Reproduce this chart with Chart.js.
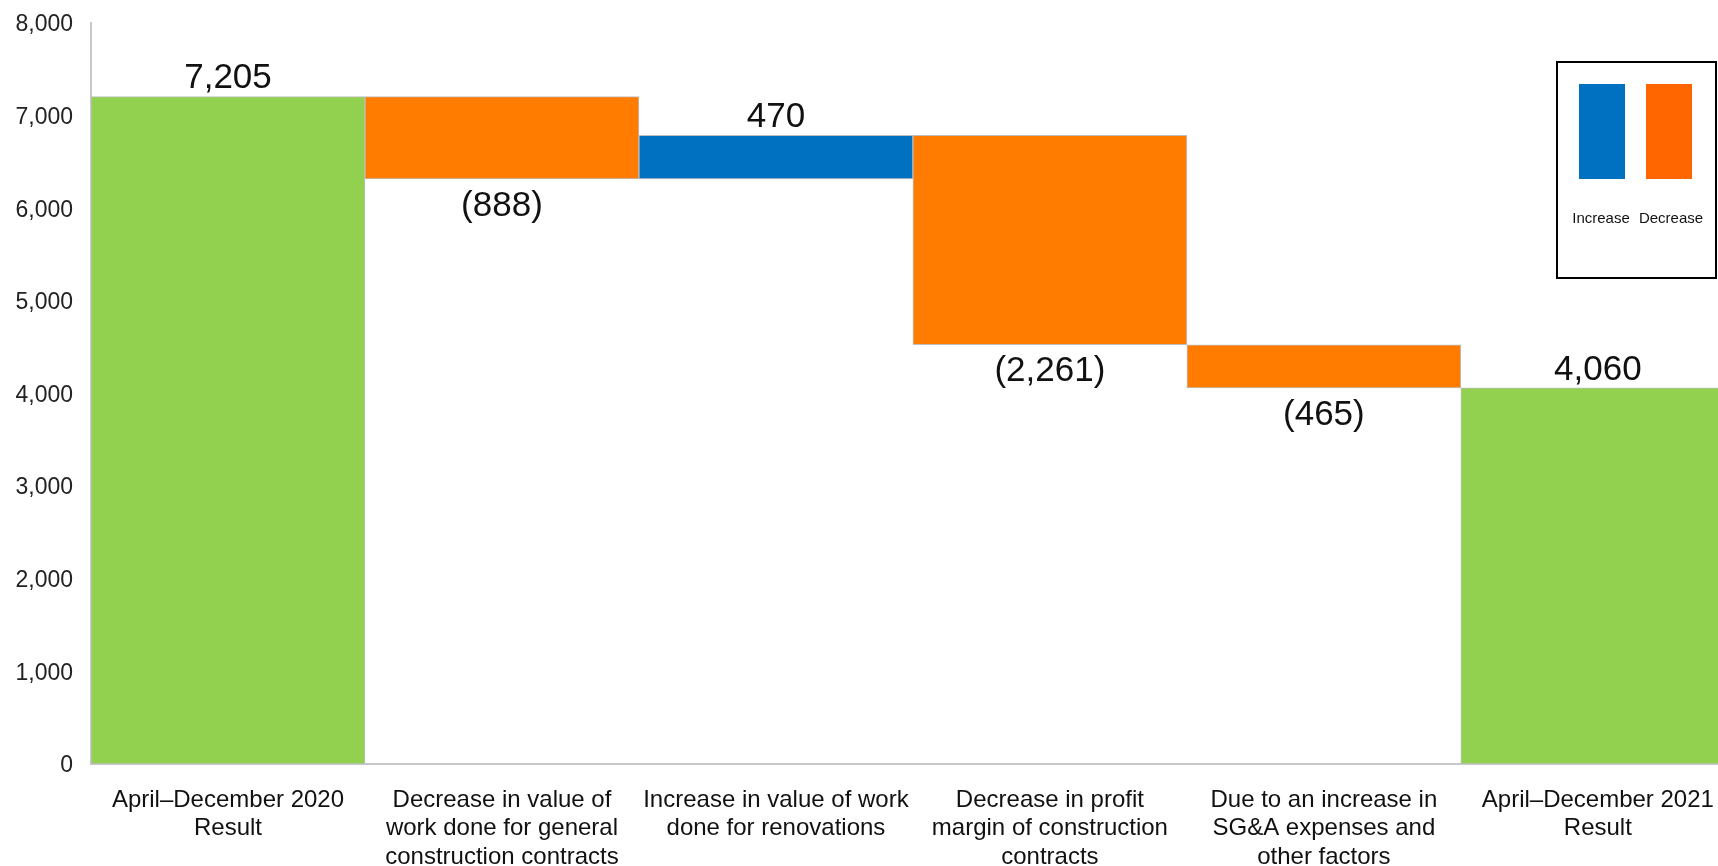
<!DOCTYPE html>
<html>
<head>
<meta charset="utf-8">
<script src="https://cdn.jsdelivr.net/npm/chart.js@4.4.1/dist/chart.umd.min.js"></script>
<style>
  html, body { margin: 0; padding: 0; background: #fff; overflow: hidden; }
  #wrap { width: 1736px; height: 866px; position: relative; }
</style>
</head>
<body>
<div id="wrap"><canvas id="chart"></canvas></div>
<script>
// categories (x axis labels, multi-line)
const categories = [
  ['April\u2013December 2020', 'Result'],
  ['Decrease in value of', 'work done for general', 'construction contracts'],
  ['Increase in value of work', 'done for renovations'],
  ['Decrease in profit', 'margin of construction', 'contracts'],
  ['Due to an increase in', 'SG&A expenses and', 'other factors'],
  ['April\u2013December 2021', 'Result']
];
// change per step; totals are the first and last bars
const changes = [7205, -888, 470, -2261, -465, 4060];
const kinds = ['total', 'delta', 'delta', 'delta', 'delta', 'total'];
const valueLabels = ['7,205', '(888)', '470', '(2,261)', '(465)', '4,060'];
const yTicks = [0, 1000, 2000, 3000, 4000, 5000, 6000, 7000, 8000];

const GREEN = '#92D050', ORANGE = '#FF7C00', BLUE = '#0070C0';

// floating bar ranges from running total
let running = 0;
const ranges = changes.map((v, i) => {
  if (kinds[i] === 'total') { running = v; return [0, v]; }
  const start = running;
  running += v;
  return [start, running];
});
const colors = changes.map((v, i) => kinds[i] === 'total' ? GREEN : (v < 0 ? ORANGE : BLUE));

const valueLabelPlugin = {
  id: 'valueLabels',
  afterDatasetsDraw(chart) {
    const ctx = chart.ctx;
    const meta = chart.getDatasetMeta(0);
    ctx.save();
    ctx.font = '35px "Liberation Sans", Arial, sans-serif';
    ctx.fillStyle = '#111';
    ctx.textAlign = 'center';
    ctx.textBaseline = 'middle';
    meta.data.forEach((bar, i) => {
      const top = Math.min(bar.y, bar.base);
      const bottom = Math.max(bar.y, bar.base);
      if (kinds[i] === 'delta' && changes[i] < 0) {
        ctx.fillText(valueLabels[i], bar.x, bottom + 27);
      } else {
        ctx.fillText(valueLabels[i], bar.x, top - 18);
      }
    });
    ctx.restore();
  }
};

// boxed legend in the top right corner
const boxLegendPlugin = {
  id: 'boxLegend',
  afterDraw(chart) {
    const ctx = chart.ctx;
    ctx.save();
    ctx.fillStyle = '#fff';
    ctx.fillRect(1557, 62, 159, 216);
    ctx.strokeStyle = '#000';
    ctx.lineWidth = 2;
    ctx.strokeRect(1557, 62, 159, 216);
    ctx.fillStyle = BLUE;
    ctx.fillRect(1579, 84, 46, 95);
    ctx.fillStyle = '#FF6600';
    ctx.fillRect(1646, 84, 46, 95);
    ctx.fillStyle = '#111';
    ctx.font = '15px "Liberation Sans", Arial, sans-serif';
    ctx.textAlign = 'center';
    ctx.textBaseline = 'middle';
    ctx.fillText('Increase', 1601, 219);
    ctx.fillText('Decrease', 1671, 219);
    ctx.restore();
  }
};

new Chart(document.getElementById('chart'), {
  type: 'bar',
  data: {
    labels: categories,
    datasets: [{
      data: ranges,
      backgroundColor: colors,
      borderColor: '#BFBFBF',
      borderWidth: 1,
      borderSkipped: false,
      barPercentage: 1,
      categoryPercentage: 1
    }]
  },
  options: {
    responsive: true,
    maintainAspectRatio: false,
    animation: false,
    layout: { padding: { top: 23, right: 1, bottom: 0, left: 0 } },
    plugins: {
      legend: { display: false },
      tooltip: { enabled: false }
    },
    scales: {
      x: {
        grid: { display: false, drawTicks: false },
        border: { color: '#C8C8C8', width: 2 },
        ticks: {
          autoSkip: false,
          maxRotation: 0,
          padding: 22,
          color: '#111',
          font: { family: '"Liberation Sans", Arial, sans-serif', size: 24, lineHeight: 1.19 }
        },
        afterFit(scale) { scale.height = 102; }
      },
      y: {
        min: 0,
        max: 8000,
        grid: { display: false, drawTicks: false },
        border: { color: '#C8C8C8', width: 2 },
        afterBuildTicks(scale) { scale.ticks = yTicks.map(v => ({ value: v })); },
        ticks: {
          padding: 18,
          labelOffset: 2,
          color: '#222',
          font: { family: '"Liberation Sans", Arial, sans-serif', size: 23 },
          callback: v => v.toLocaleString('en-US')
        },
        afterFit(scale) {
          scale.width = 91;
          scale.paddingTop = 0;
        }
      }
    }
  },
  plugins: [valueLabelPlugin, boxLegendPlugin]
});
</script>
</body>
</html>
